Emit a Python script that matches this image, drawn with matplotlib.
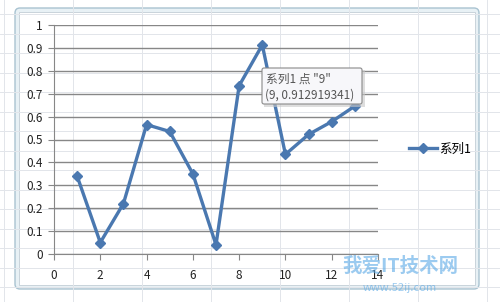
import numpy as np
import matplotlib.pyplot as plt
from matplotlib.patches import FancyBboxPatch, Rectangle

plt.rcParams['font.family'] = ['Noto Sans CJK SC', 'DejaVu Sans']

# data
x_vals = [1, 2, 3, 4, 5, 6, 7, 8, 9, 10, 11, 12, 13]
y_vals = [0.34, 0.05, 0.22, 0.565, 0.535, 0.35, 0.04, 0.735, 0.912919341,
          0.435, 0.522, 0.578, 0.646]
series_name = '系列1'
x_ticks = [0, 2, 4, 6, 8, 10, 12, 14]
y_ticks = [0, 0.1, 0.2, 0.3, 0.4, 0.5, 0.6, 0.7, 0.8, 0.9, 1]
tip_line1 = '系列1 点 "9"'
tip_line2 = '(9, 0.912919341)'

W, H = 500, 302
fig = plt.figure(figsize=(W/100, H/100), dpi=100)

def px(x, y):
	return x/W, 1 - y/H

# spreadsheet background
bg = fig.add_axes([0, 0, 1, 1])
bg.set_xlim(0, W)
bg.set_ylim(H, 0)
bg.axis('off')
for gx in np.arange(4, W, 69):
	bg.axvline(gx, color='#e2e5ea', lw=0.7)
for gy in np.arange(14, H, 19.5):
	bg.axhline(gy, color='#e2e5ea', lw=0.7)

# chart frame
bg.add_patch(FancyBboxPatch((15, 8), 464, 281, boxstyle='round,pad=0,rounding_size=5',
	fc='#e8f1f5', ec='#a9c3d1', lw=1.0))
bg.add_patch(Rectangle((19, 12), 456, 273, fc='white', ec='#c9d3db', lw=0.7))

ax = fig.add_axes([54/W, 1-254/H, 324/W, 229/H])
ax.set_xlim(0, 14)
ax.set_ylim(0, 1)
ax.set_facecolor('none')
ax.set_xticks(x_ticks)
ax.set_yticks(y_ticks)
ax.set_yticklabels(['0' if v == 0 else ('1' if v == 1 else f'{v:g}') for v in y_ticks])
ax.yaxis.grid(True, color='#878787', lw=1)
ax.set_axisbelow(True)
for s in ['top', 'right']:
	ax.spines[s].set_visible(False)
for s in ['left', 'bottom']:
	ax.spines[s].set_color('#878787')
ax.tick_params(axis='both', direction='out', length=4, color='#878787',
	labelsize=8.5, labelcolor='#222222', pad=4)
ax.tick_params(axis='x', pad=7)

ax.plot(x_vals, y_vals, color='#4a78b0', lw=2.4, marker='D', markersize=5,
	label=series_name, clip_on=False)

ax.legend(loc='center left', bbox_to_anchor=px(398, 149), bbox_transform=fig.transFigure,
	frameon=False, fontsize=9, handlelength=2.2, handletextpad=0.2)

# overlay for tooltip and watermark
top = fig.add_axes([0, 0, 1, 1])
top.set_xlim(0, W)
top.set_ylim(H, 0)
top.axis('off')
top.patch.set_alpha(0)

top.add_patch(Rectangle((264, 70), 101, 37, fc='#c8c8c8', ec='none', alpha=0.6))
top.add_patch(FancyBboxPatch((262, 68), 100, 36, boxstyle='round,pad=0,rounding_size=2',
	fc='#f7f7fa', ec='#8a8a8a', lw=0.8))
top.text(266, 79, tip_line1, fontsize=8.5, color='#555555', va='center')
top.text(265, 95, tip_line2, fontsize=8.5, color='#555555', va='center')

top.text(400, 266, '我爱IT技术网', fontsize=14, fontweight='bold', color='#5aa9e6',
	alpha=0.6, ha='center', va='center')
top.text(400, 288, 'www.52ij.com', fontsize=8, color='#5aa9e6', alpha=0.6,
	ha='center', va='center')

fig.savefig('out.png', dpi=100)
